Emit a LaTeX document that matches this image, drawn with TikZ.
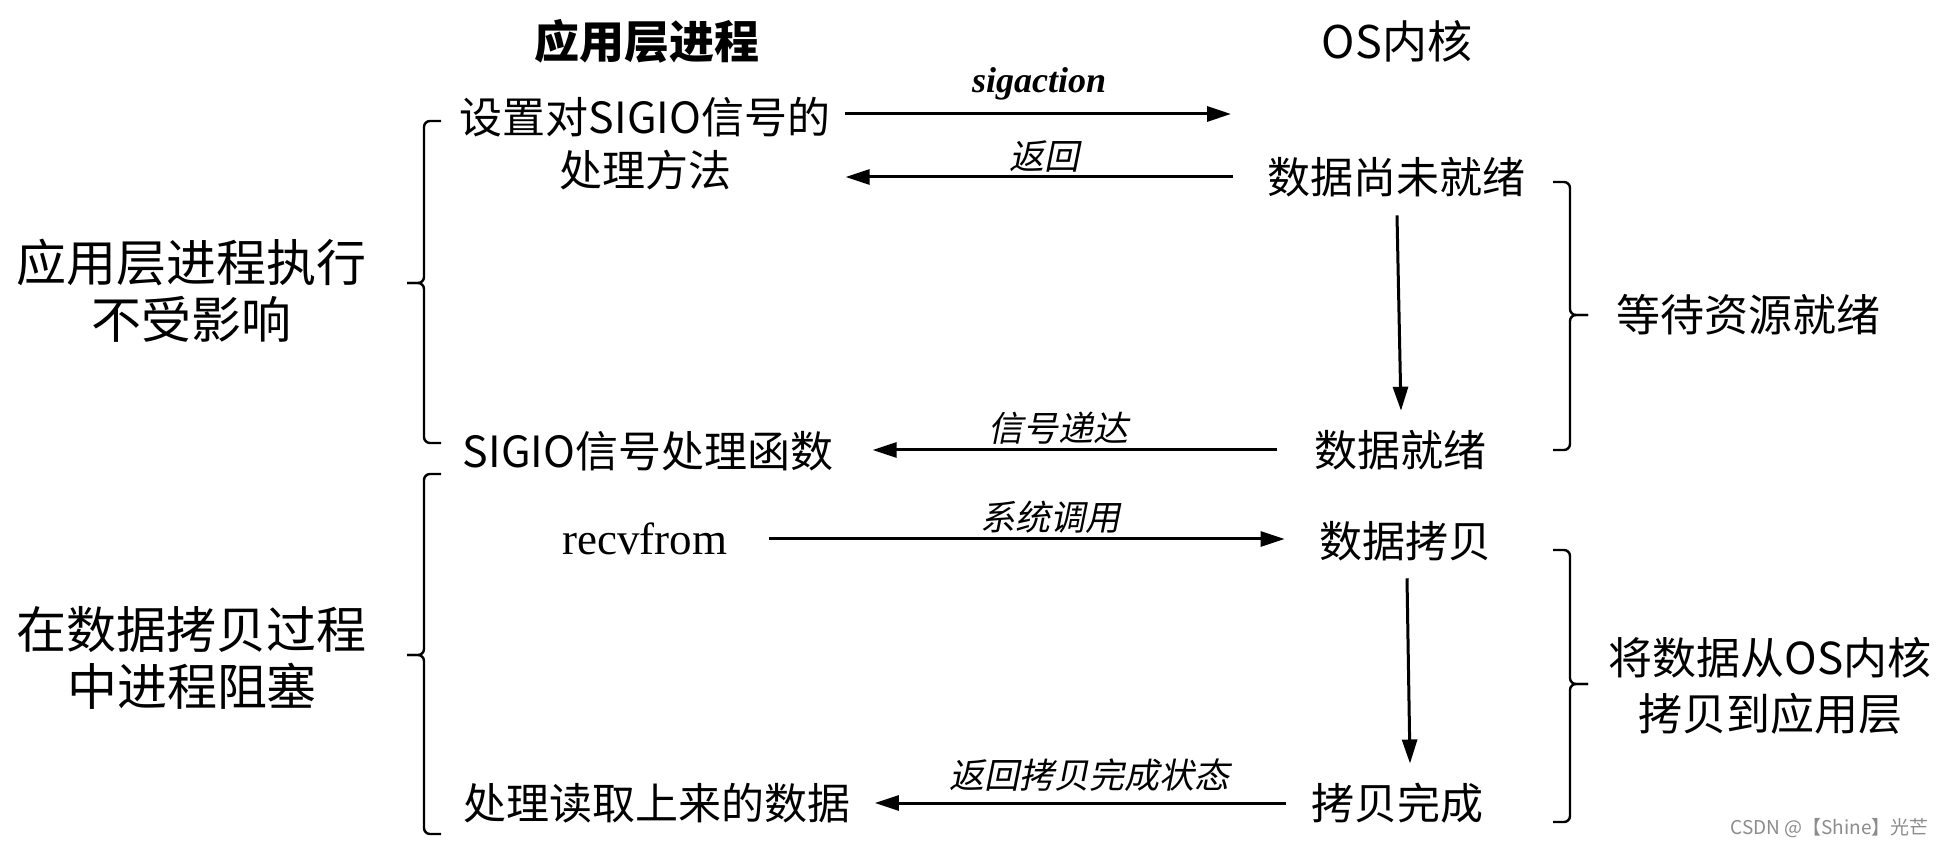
\documentclass[tikz,border=0pt]{standalone}
\usepackage{fontspec}
\setmainfont{Liberation Serif}
\newfontfamily\cjk{Noto Sans CJK SC}
\newfontfamily\cjkit{Noto Sans CJK SC}[FakeSlant=0.2]
\usetikzlibrary{arrows.meta}
\begin{document}
\begin{tikzpicture}[x=0.5pt,y=-0.5pt,
  hdr/.style={font=\cjk\fontsize{22.5}{26}\selectfont, inner sep=0},
  col/.style={font=\cjk\fontsize{21.5}{26.5}\selectfont, inner sep=0, align=center},
  big/.style={font=\cjk\fontsize{25}{28.5}\selectfont, inner sep=0, align=center},
  side/.style={font=\cjk\fontsize{22}{28}\selectfont, inner sep=0, align=center},
  lbl/.style={font=\cjkit\fontsize{17.5}{20}\selectfont, inner sep=0},
  latin/.style={font=\fontsize{22.5}{26}\selectfont, inner sep=0},
  arr/.style={line width=1.5pt, -{Triangle[length=12pt,width=7.5pt]}},
  bracepath/.style={line width=1.2pt, rounded corners=3pt}]
\useasboundingbox[fill=white] (0,0) rectangle (1944,849);

% headers
\node[hdr] (h1) at (647,41) {\bfseries 应用层进程};
\node[hdr] (h2) at (1397,41) {OS内核};

% application column
\node[col] (setsig) at (645,144) {设置对SIGIO信号的\\处理方法};
\node[col] (handler) at (648,451) {SIGIO信号处理函数};
\node[latin] (recv) at (645,539) {recvfrom};
\node[col] (proc) at (657,803) {处理读取上来的数据};

% kernel column
\node[col] (notready) at (1396,177) {数据尚未就绪};
\node[col] (ready) at (1400,450) {数据就绪};
\node[col] (copy) at (1405,541) {数据拷贝};
\node[col] (done) at (1397,803) {拷贝完成};

% connectors
\coordinate (sigend) at (1231,114);
\draw[arr] ([xshift=7pt]setsig.east |- sigend) -- (sigend);
\node[font=\bfseries\itshape\fontsize{18}{20}\selectfont, inner sep=0] (l1) at (1039,84) {sigaction};

\draw[arr, shorten <=17pt, shorten >=7.5pt] (notready.west) -- (notready.west -| setsig.east);
\node[lbl] (l2) at (1044,156) {返回};

\draw[arr] ([shift={(1,18)}]notready.south) -- ([shift={(1,-19)}]ready.north);

\draw[arr, shorten <=18.5pt, shorten >=19.5pt] (ready.west) -- (ready.west -| handler.east);
\node[lbl] (l3) at (1058,428) {信号递达};

\draw[arr, shorten <=20.5pt, shorten >=17pt] (recv.east) -- (recv.east -| copy.west);
\node[lbl] (l4) at (1050,517) {系统调用};

\draw[arr] ([shift={(2,17)}]copy.south) -- ([shift={(13,-19)}]done.north);

\draw[arr, shorten <=12.5pt, shorten >=12pt] (done.west) -- (done.west -| proc.east);
\node[lbl] (l5) at (1089,775) {返回拷贝完成状态};

% left braces
\draw[bracepath] (441,121) -- (424,121) -- (424,283) -- (407,283);
\draw[bracepath] (407,283) -- (424,283) -- (424,443) -- (441,443);
\draw[bracepath] (441,474) -- (424,474) -- (424,655) -- (407,655);
\draw[bracepath] (407,655) -- (424,655) -- (424,834) -- (441,834);

% right braces
\draw[bracepath] (1553,182) -- (1570,182) -- (1570,315) -- (1588,315);
\draw[bracepath] (1588,315) -- (1570,315) -- (1570,450) -- (1553,450);
\draw[bracepath] (1553,550) -- (1570,550) -- (1570,684) -- (1588,684);
\draw[bracepath] (1588,684) -- (1570,684) -- (1570,822) -- (1553,822);

% side texts
\node[big] (lt1) at (192,291) {应用层进程执行\\不受影响};
\node[big] (lt2) at (192,658) {在数据拷贝过程\\中进程阻塞};
\node[side] (rt1) at (1748,315) {等待资源就绪};
\node[side] (rt2) at (1770,686) {将数据从OS内核\\拷贝到应用层};

% watermark
\node[anchor=east, text=black!45, font=\cjk\fontsize{9.5}{11}\selectfont, inner sep=0] (wm) at (1929,828) {CSDN @【Shine】光芒};
\end{tikzpicture}
\end{document}
